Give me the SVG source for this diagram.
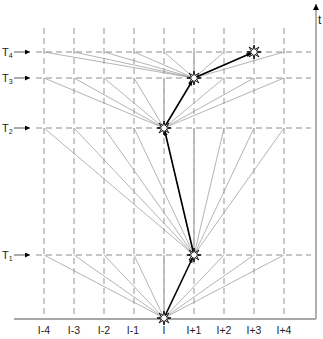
<svg xmlns="http://www.w3.org/2000/svg" width="323" height="339" viewBox="0 0 323 339">
<style>
.grid{stroke:#b4b4b4;stroke-width:1.4;stroke-dasharray:6,4;fill:none}
.solid{stroke:#b4b4b4;stroke-width:1.6;fill:none}
.fan{stroke:#949494;stroke-width:0.7;fill:none}
.axis{stroke:#a8a8a8;stroke-width:1.8;fill:none}
.path{stroke:#000;stroke-width:1.6;fill:none}
.star{fill:#fff;stroke:#000;stroke-width:0.9}
.lbl{font-family:"Liberation Sans",Arial,sans-serif;font-size:10.5px;fill:#222}
.tl{font-family:"Liberation Sans",Arial,sans-serif;font-size:11px;fill:#222}
.tick{stroke:#444;stroke-width:0.9}
</style>
<defs>
<marker id="ah" viewBox="0 0 10 10" refX="10" refY="5" markerWidth="5" markerHeight="5" orient="auto" markerUnits="userSpaceOnUse"><path d="M0,0 L10,5 L0,10 z" fill="#000"/></marker>
<marker id="pah" viewBox="0 0 10 10" refX="9" refY="5" markerWidth="6" markerHeight="5" orient="auto" markerUnits="userSpaceOnUse"><path d="M0,1 L10,5 L0,9 z" fill="#000"/></marker>
<marker id="axh" viewBox="0 0 10 10" refX="5" refY="0" markerWidth="6" markerHeight="8" orient="0" markerUnits="userSpaceOnUse"><path d="M5,0 L10,10 L0,10 z" fill="#000"/></marker>
<polygon id="st" points="0,-7 1,-2.4 4.9,-4.9 2.4,-1 7,0 2.4,1 4.9,4.9 1,2.4 0,7 -1,2.4 -4.9,4.9 -2.4,1 -7,0 -2.4,-1 -4.9,-4.9 -1,-2.4"/>
</defs>
<g id="grid">
<path class="grid" d="M44,28V318 M74,28V318 M104,28V318 M134,28V318 M164,28V318 M194,28V318 M224,28V318 M254,28V318 M284,28V318"/>
<path class="grid" d="M36,52H311 M36,78H311 M36,128H311 M36,255H311"/>
<path class="solid" d="M164,318V255 M164,128V78 M194,255V128 M194,78V52"/>
</g>
<g id="axes">
<path class="axis" d="M14,319H316"/>
<path class="axis" d="M316,319V4" marker-end="url(#axh)"/>
<text class="tl" x="318" y="24" style="font-size:12px">t</text>
</g>
<g id="connectors">
<g class="fan">
<path d="M164,318L44,255 M164,318L74,255 M164,318L104,255 M164,318L134,255 M164,318L224,255 M164,318L254,255 M164,318L284,255"/>
<path d="M194,255L44,128 M194,255L74,128 M194,255L104,128 M194,255L134,128 M194,255L164,128 M194,255L224,128 M194,255L254,128 M194,255L284,128"/>
<path d="M164,128L44,78 M164,128L74,78 M164,128L104,78 M164,128L134,78 M164,128L194,78 M164,128L224,78 M164,128L254,78 M164,128L284,78"/>
<path d="M194,78L44,52 M194,78L74,52 M194,78L104,52 M194,78L134,52 M194,78L164,52 M194,78L224,52 M194,78L254,52 M194,78L284,52"/>
</g>
<path class="path" d="M164,318L192.5,258" marker-end="url(#pah)"/>
<path class="path" d="M194,255L164.8,131" marker-end="url(#pah)"/>
<path class="path" d="M164,128L192.2,81" marker-end="url(#pah)"/>
<path class="path" d="M194,78L251,53.3" marker-end="url(#pah)"/>
<g id="tarrows">
<path class="tick" d="M14,52H30" marker-end="url(#ah)"/>
<path class="tick" d="M14,78H30" marker-end="url(#ah)"/>
<path class="tick" d="M14,128H30" marker-end="url(#ah)"/>
<path class="tick" d="M14,255H30" marker-end="url(#ah)"/>
</g>
</g>
<g id="E0"><use href="#st" class="star" x="164" y="318"/></g>
<g id="E1"><use href="#st" class="star" x="194" y="255"/></g>
<g id="E2"><use href="#st" class="star" x="164" y="128"/></g>
<g id="E3"><use href="#st" class="star" x="194" y="78"/></g>
<g id="E4"><use href="#st" class="star" x="254" y="52"/></g>
<g id="tlabels">
<text class="tl" x="2" y="56">T<tspan font-size="7" dy="2">4</tspan></text>
<text class="tl" x="2" y="82">T<tspan font-size="7" dy="2">3</tspan></text>
<text class="tl" x="2" y="132">T<tspan font-size="7" dy="2">2</tspan></text>
<text class="tl" x="2" y="259">T<tspan font-size="7" dy="2">1</tspan></text>
</g>
<g id="xlabels" text-anchor="middle">
<text class="lbl" x="44" y="334">I-4</text>
<text class="lbl" x="74" y="334">I-3</text>
<text class="lbl" x="104" y="334">I-2</text>
<text class="lbl" x="133" y="334">I-1</text>
<text class="lbl" x="164" y="334">I</text>
<text class="lbl" x="194" y="334">I+1</text>
<text class="lbl" x="224" y="334">I+2</text>
<text class="lbl" x="254" y="334">I+3</text>
<text class="lbl" x="284" y="334">I+4</text>
</g>
</svg>
